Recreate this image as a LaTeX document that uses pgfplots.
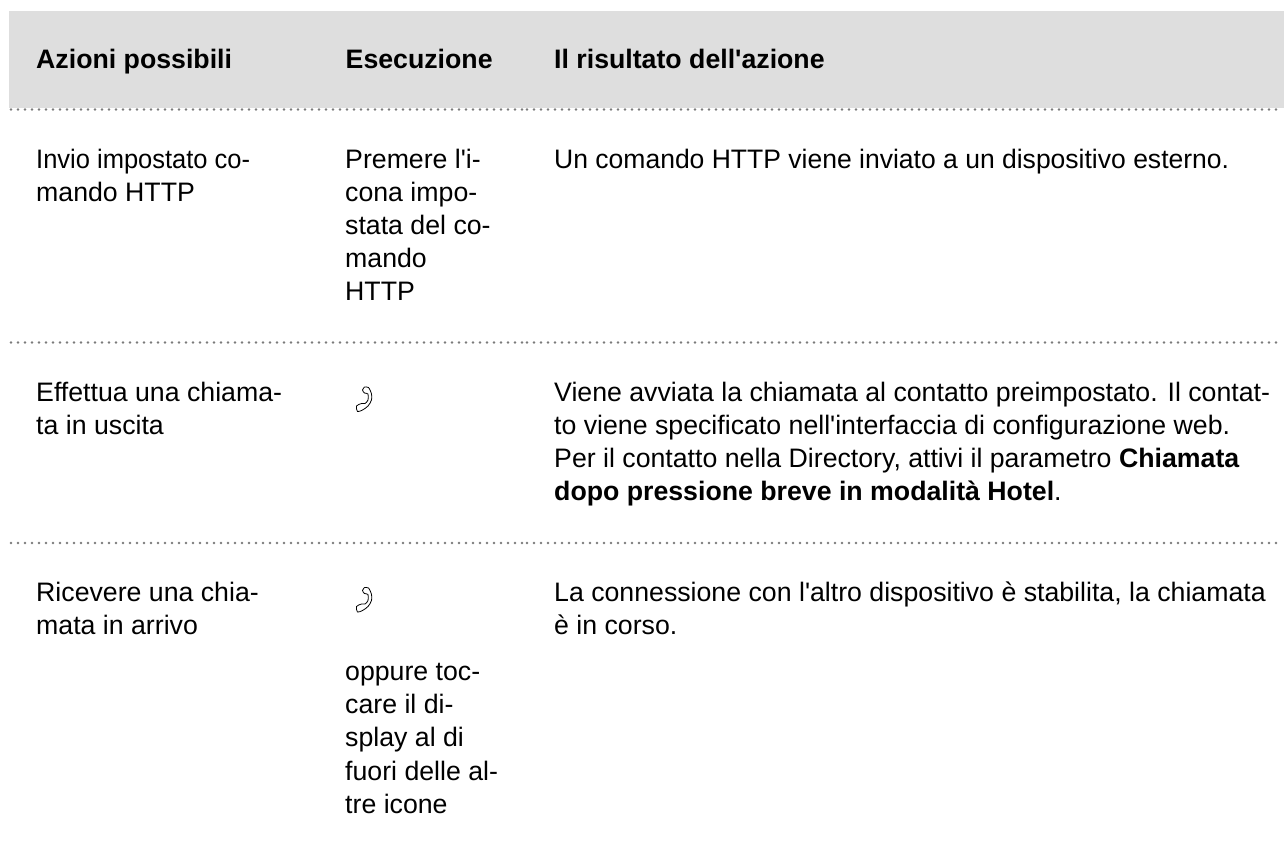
\documentclass[border=0pt]{standalone}
\usepackage{pgfplots}
\pgfplotsset{compat=1.18}
\usepackage{fontspec}
\setmainfont[Ligatures=TeXOff]{Liberation Sans}
\definecolor{hdr}{HTML}{DEDEDE}
\definecolor{dotc}{HTML}{7A7A7A}
\newcommand{\T}[3][1]{\node[anchor=base west,inner sep=0pt,xscale=#1,font=\fontsize{26.7pt}{33pt}\selectfont] at (axis cs:#2) {#3};}
\begin{document}
\begin{tikzpicture}[x=1pt,y=1pt]
\begin{axis}[
  at={(0,0)},anchor=south west,
  width=1284pt,height=849pt,scale only axis,
  xmin=0,xmax=1284,ymin=0,ymax=849,y dir=reverse,
  hide axis,clip=false,
  axis line style={draw=none}]
\addplot[draw=none,fill=hdr] coordinates {(9,11)(1284,11)(1284,108.3)(9,108.3)} -- cycle;
\pgfplotsset{dotline/.style={dotc,line width=2.8pt,line cap=round,dash pattern=on 0pt off 7pt}}
\addplot[dotline] coordinates {(11,109.5)(525,109.5)};
\addplot[dotline] coordinates {(527,109.5)(1282,109.5)};
\addplot[dotline] coordinates {(11,342.5)(525,342.5)};
\addplot[dotline] coordinates {(527,342.5)(1282,342.5)};
\addplot[dotline] coordinates {(11,543)(525,543)};
\addplot[dotline] coordinates {(527,543)(1282,543)};
\addplot[draw=none] coordinates {(0,0)(1284,849)};
% handset icons
\addplot[black,line width=0.8pt,smooth] coordinates {(364.5,387)(368.5,387.5)(371.5,394)(371.5,400)(368,406)(362.5,410)(357.5,411.5)(356.5,406)(361.5,403.5)(365,403.5)(368,400)(368,394)(364.5,393)(362.5,390)(364.5,387)};
\addplot[black,line width=0.8pt,smooth] coordinates {(364.5,587.5)(368.5,588)(371.5,594.5)(371.5,600.5)(368,606.5)(362.5,610.5)(357.5,612)(356.5,606.5)(361.5,604)(365,604)(368,600.5)(368,594.5)(364.5,593.5)(362.5,590.5)(364.5,587.5)};
\T{36,68}{\textbf{Azioni possibili}}
\T{345.5,68}{\textbf{Esecuzione}}
\T{554,68}{\textbf{Il risultato dell'azione}}
\T[0.955]{36,168}{Invio impostato co-}
\T{36,201}{mando HTTP}
\T{345,168}{Premere l'i-}
\T{345,201}{cona impo-}
\T{345,234}{stata del co-}
\T{345,267}{mando}
\T{345,300}{HTTP}
\T[0.993]{554,168}{Un comando HTTP viene inviato a un dispositivo esterno.}
\T{36,401}{Effettua una chiama-}
\T{36,434}{ta in uscita}
\T{554,401}{Viene avviata la chiamata al contatto preimpostato. Il contat-}
\T{554,434}{to viene specificato nell'interfaccia di configurazione web.}
\T{554,467}{Per il contatto nella Directory, attivi il parametro \textbf{Chiamata}}
\T{554,500}{\textbf{dopo pressione breve in modalità Hotel}.}
\T{36,601}{Ricevere una chia-}
\T{36,634}{mata in arrivo}
\T{345,680}{oppure toc-}
\T{345,713}{care il di-}
\T{345,746}{splay al di}
\T{345,780}{fuori delle al-}
\T{345,813}{tre icone}
\T{554,601}{La connessione con l'altro dispositivo è stabilita, la chiamata}
\T{554,634}{è in corso.}
\end{axis}
\end{tikzpicture}
\end{document}
